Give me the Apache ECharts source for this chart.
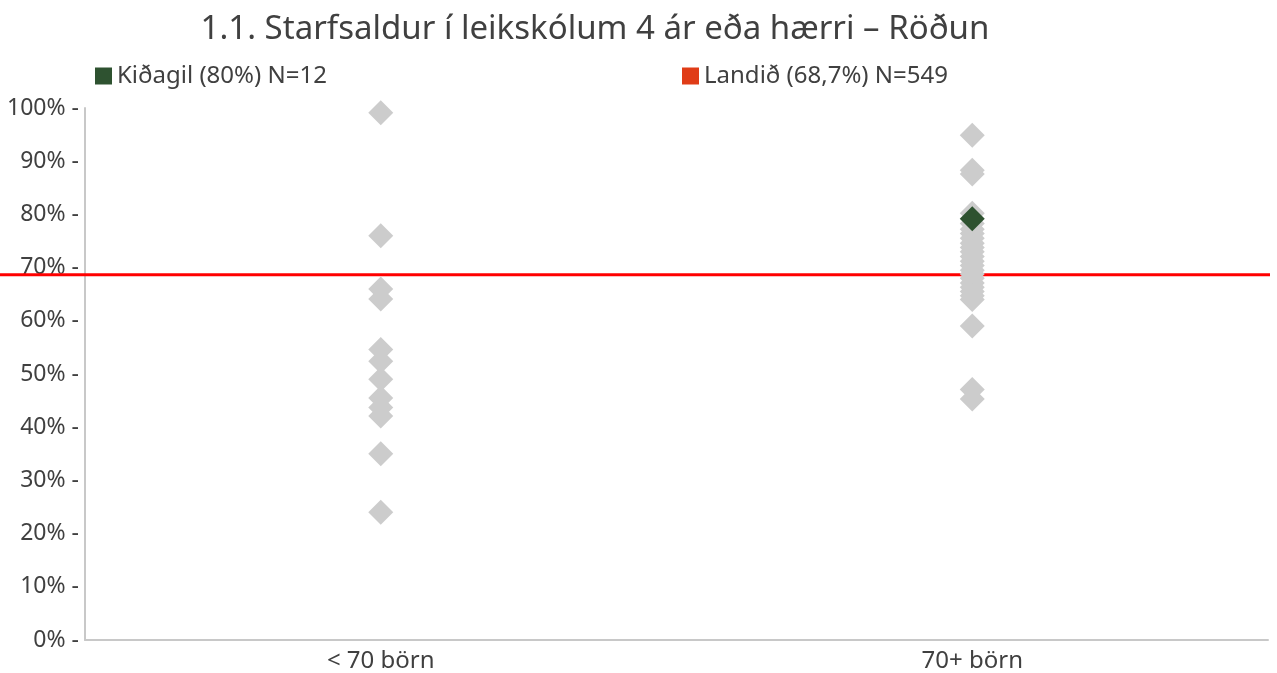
<!DOCTYPE html>
<html>
<head>
<meta charset="utf-8">
<script src="https://cdn.jsdelivr.net/npm/echarts@6/dist/echarts.min.js"></script>
<style>
  html, body { margin: 0; padding: 0; background: #fff; }
  #chart { width: 1277px; height: 673px; }
</style>
</head>
<body>
<div id="chart"></div>
<script>
// categories on the x axis
const categories = ['< 70 börn', '70+ börn']
// grey diamonds, one per school
const smallSchools = [99.1, 76.0, 66.0, 64.1, 54.6, 52.4, 49.0, 45.5, 43.7, 42.1, 35.0, 24.0]
const largeSchools = [94.9, 88.3, 87.6, 80.2, 78.3, 77.2, 76.4, 75.5, 74.6, 73.8, 73.0, 72.1,
  71.2, 70.4, 69.5, 68.8, 68.0, 67.1, 66.3, 65.5, 64.7, 64.0, 59.0, 47.1, 45.3]
// highlighted school and national average
const kidagil = 79.2
const landid = 68.7
const kidagilName = 'Kiðagil (80%) N=12'
const landidName = 'Landið (68,7%) N=549'

const font = 'Noto Sans'
const chart = echarts.init(document.getElementById('chart'))

const greyPoints = []
smallSchools.forEach(v => greyPoints.push([categories[0], v]))
largeSchools.forEach(v => greyPoints.push([categories[1], v]))

chart.setOption({
  animation: false,
  textStyle: { fontFamily: font },
  title: {
    text: '1.1. Starfsaldur í leikskólum 4 ár eða hærri – Röðun',
    left: 590,
    textAlign: 'center',
    top: 8,
    textStyle: { fontFamily: font, fontSize: 33, fontWeight: 'normal', color: '#404040' }
  },
  legend: [{
    left: 90,
    top: 59,
    itemWidth: 17,
    itemHeight: 17,
    itemGap: 10,
    textStyle: { fontFamily: font, fontSize: 24, color: '#404040' },
    data: [{ name: kidagilName, icon: 'rect', itemStyle: { color: '#2e5230' } }]
  }, {
    left: 677,
    top: 59,
    itemWidth: 17,
    itemHeight: 17,
    textStyle: { fontFamily: font, fontSize: 24, color: '#404040' },
    data: [{ name: landidName, icon: 'rect', itemStyle: { color: '#e03c17' } }]
  }],
  grid: [
    { left: 85, right: 9, top: 108, bottom: 32 },
    { left: 0, right: 7, top: 108, bottom: 32 }
  ],
  xAxis: [{
    type: 'category',
    data: categories,
    gridIndex: 0,
    axisLine: { lineStyle: { color: '#c8c8c8', width: 2 } },
    axisTick: { show: false },
    axisLabel: { fontFamily: font, fontSize: 24, color: '#404040', margin: 9 }
  }, {
    type: 'value',
    gridIndex: 1,
    min: 0,
    max: 1,
    show: false
  }],
  yAxis: [{
    type: 'value',
    gridIndex: 0,
    min: 0,
    max: 100,
    interval: 10,
    splitLine: { show: false },
    axisLine: { show: true, lineStyle: { color: '#c8c8c8', width: 2 } },
    axisTick: { show: false },
    axisLabel: { fontFamily: font, fontSize: 23, color: '#404040', margin: 6, formatter: '{value}% -' }
  }, {
    type: 'value',
    gridIndex: 1,
    min: 0,
    max: 100,
    show: false
  }],
  series: [{
    name: landidName,
    type: 'line',
    xAxisIndex: 1,
    yAxisIndex: 1,
    data: [[0, landid], [1, landid]],
    symbol: 'none',
    lineStyle: { color: '#ff0000', width: 3 },
    itemStyle: { color: '#e03c17' },
    z: 1
  }, {
    name: 'skólar',
    type: 'scatter',
    data: greyPoints,
    symbol: 'diamond',
    symbolSize: 25,
    itemStyle: { color: '#cccccc', opacity: 1 },
    z: 2
  }, {
    name: kidagilName,
    type: 'scatter',
    data: [[categories[1], kidagil]],
    symbol: 'diamond',
    symbolSize: 25,
    itemStyle: { color: '#2e5230', opacity: 1 },
    z: 3
  }]
})
</script>
</body>
</html>
